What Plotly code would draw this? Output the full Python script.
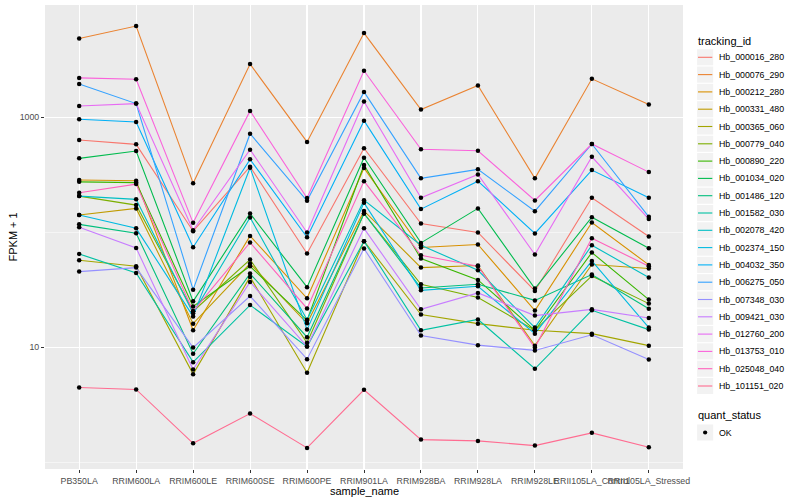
import plotly.graph_objects as go

samples = ["PB350LA", "RRIM600LA", "RRIM600LE", "RRIM600SE", "RRIM600PE", "RRIM901LA",
           "RRIM928BA", "RRIM928LA", "RRIM928LE", "RRII105LA_Control", "RRII105LA_Stressed"]

Hb_000016_280 = [634, 581, 102, 371, 65.2, 537, 119, 99.4, 30.8, 199, 91.7]
Hb_000076_290 = [4840, 6210, 267, 2900, 610, 5400, 1165, 1888, 294, 2158, 1288]
Hb_000212_280 = [284, 280, 14, 92.8, 26.6, 361, 73.5, 78.1, 20.8, 121.5, 51.9]
Hb_000331_480 = [141, 161, 16, 53.3, 16.1, 153, 49.2, 51.3, 10.3, 52.3, 48.3]
Hb_000365_060 = [57, 50.5, 5.82, 40.8, 5.98, 83.5, 19.2, 16, 14, 13.1, 10.3]
Hb_000779_040 = [206, 172, 20.5, 57.8, 10.9, 145.5, 35.2, 27, 14, 41.6, 23.9]
Hb_000890_220 = [274, 270, 22.6, 50.5, 17.1, 384, 59, 38.4, 14, 66.5, 25.9]
Hb_001034_020 = [439, 508, 25, 145.5, 33.2, 444, 80.7, 161, 32.3, 135, 72.5]
Hb_001486_120 = [117, 98, 8.76, 43.6, 12.2, 145.5, 32.7, 35.2, 25.5, 42.8, 21.6]
Hb_001582_030 = [64.7, 44.2, 7.4, 23.2, 10.1, 83.5, 14, 17.4, 6.48, 20.9, 14.2]
Hb_002078_420 = [206, 193, 19.7, 134, 17.3, 190, 77, 46.6, 14.8, 77, 40.3]
Hb_002374_150 = [141, 108, 18.5, 364, 14.2, 180, 31.2, 33.8, 13.1, 56.2, 14.8]
Hb_004032_350 = [960, 910, 74, 430, 90.4, 934, 158.7, 278, 97.4, 347, 199]
Hb_006275_050 = [1950, 1314, 31.6, 719, 187.5, 1662, 294, 352, 152.4, 585, 136]
Hb_007348_030 = [45.4, 49.2, 9.9, 27.8, 7.86, 72.1, 12.6, 10.4, 9.36, 12.8, 7.81]
Hb_009421_030 = [110.5, 73, 6.39, 36.9, 10.1, 108, 21.3, 29.6, 18.8, 21.3, 17.9]
Hb_012760_200 = [1254, 1314, 104, 522, 99.4, 1368, 199, 318, 64, 453, 130]
Hb_013753_010 = [2200, 2143, 120.5, 1135, 198, 2535, 526, 511, 189, 585, 333]
Hb_025048_040 = [220, 262, 20.5, 81.3, 21.7, 278, 63, 50.5, 9.9, 88.7, 50.5]
Hb_101151_020 = [4.45, 4.28, 1.456, 2.64, 1.327, 4.25, 1.568, 1.528, 1.39, 1.794, 1.343]

series = [
    ("Hb_000016_280", Hb_000016_280, "#F8766D"),
    ("Hb_000076_290", Hb_000076_290, "#EA8331"),
    ("Hb_000212_280", Hb_000212_280, "#D89000"),
    ("Hb_000331_480", Hb_000331_480, "#C09B00"),
    ("Hb_000365_060", Hb_000365_060, "#A3A500"),
    ("Hb_000779_040", Hb_000779_040, "#7CAE00"),
    ("Hb_000890_220", Hb_000890_220, "#39B600"),
    ("Hb_001034_020", Hb_001034_020, "#00BB4E"),
    ("Hb_001486_120", Hb_001486_120, "#00BF7D"),
    ("Hb_001582_030", Hb_001582_030, "#00C1A3"),
    ("Hb_002078_420", Hb_002078_420, "#00BFC4"),
    ("Hb_002374_150", Hb_002374_150, "#00BAE0"),
    ("Hb_004032_350", Hb_004032_350, "#00B0F6"),
    ("Hb_006275_050", Hb_006275_050, "#35A2FF"),
    ("Hb_007348_030", Hb_007348_030, "#9590FF"),
    ("Hb_009421_030", Hb_009421_030, "#C77CFF"),
    ("Hb_012760_200", Hb_012760_200, "#E76BF3"),
    ("Hb_013753_010", Hb_013753_010, "#FA62DB"),
    ("Hb_025048_040", Hb_025048_040, "#FF62BC"),
    ("Hb_101151_020", Hb_101151_020, "#FF6C91"),
]

W, H = 800, 500
ML, MR, MT, MB = 45, 117, 5, 31
PW, PH = W - ML - MR, H - MT - MB


def px(xp):
    return (xp - ML) / PW


def py(yp):
    return (H - MB - yp) / PH


FONT = "Liberation Sans"

fig = go.Figure()
for name, vals, col in series:
    fig.add_trace(go.Scatter(x=samples, y=vals, mode="lines", name=name,
                             line=dict(color=col, width=1.1), showlegend=False))

all_x, all_y = [], []
for name, vals, col in series:
    all_x += samples
    all_y += vals
fig.add_trace(go.Scatter(x=all_x, y=all_y, mode="markers", name="OK",
                         marker=dict(color="black", size=4.5, symbol="circle"),
                         showlegend=False))

shapes = []
annotations = []

# legend: tracking_id
key_l, key_r = 696.5, 713.8
row0, rowh = 57.3, 17.3
annotations.append(dict(xref="paper", yref="paper", x=px(696), y=py(40.7), text="tracking_id",
                        showarrow=False, xanchor="left", yanchor="middle",
                        font=dict(family=FONT, size=11, color="black")))
for i, (name, vals, col) in enumerate(series):
    c = row0 + i * rowh
    shapes.append(dict(type="rect", xref="paper", yref="paper",
                       x0=px(key_l + 0.6), x1=px(key_r - 0.6), y0=py(c - rowh / 2 + 0.6), y1=py(c + rowh / 2 - 0.6),
                       fillcolor="#F2F2F2", line=dict(width=0), layer="above"))
    shapes.append(dict(type="line", xref="paper", yref="paper",
                       x0=px(key_l + 1.5), x1=px(key_r - 1.5), y0=py(c), y1=py(c),
                       line=dict(color=col, width=1.1), layer="above"))
    annotations.append(dict(xref="paper", yref="paper", x=px(717), y=py(c), text=name,
                            showarrow=False, xanchor="left", yanchor="middle",
                            font=dict(family=FONT, size=8.8, color="black")))

# legend: quant_status
q_title, q_row = 414.5, 432.5
annotations.append(dict(xref="paper", yref="paper", x=px(696), y=py(q_title), text="quant_status",
                        showarrow=False, xanchor="left", yanchor="middle",
                        font=dict(family=FONT, size=11, color="black")))
shapes.append(dict(type="rect", xref="paper", yref="paper",
                   x0=px(key_l + 0.6), x1=px(key_r - 0.6), y0=py(q_row - rowh / 2 + 0.6), y1=py(q_row + rowh / 2 - 0.6),
                   fillcolor="#F2F2F2", line=dict(width=0), layer="above"))
kc = (key_l + key_r) / 2
shapes.append(dict(type="circle", xref="paper", yref="paper",
                   x0=px(kc - 2.1), x1=px(kc + 2.1), y0=py(q_row - 2.1), y1=py(q_row + 2.1),
                   fillcolor="black", line=dict(width=0), layer="above"))
annotations.append(dict(xref="paper", yref="paper", x=px(717), y=py(q_row), text="OK",
                        showarrow=False, xanchor="left", yanchor="middle",
                        font=dict(family=FONT, size=8.8, color="black")))

# axis titles
annotations.append(dict(xref="paper", yref="paper", x=px(ML + PW / 2), y=py(491.5), text="sample_name",
                        showarrow=False, xanchor="center", yanchor="middle",
                        font=dict(family=FONT, size=11, color="black")))
annotations.append(dict(xref="paper", yref="paper", x=px(12.5), y=py(MT + PH / 2), text="FPKM + 1",
                        showarrow=False, xanchor="center", yanchor="middle", textangle=-90,
                        font=dict(family=FONT, size=11, color="black")))

fig.update_layout(
    width=W, height=H,
    margin=dict(l=ML, r=MR, t=MT, b=MB),
    plot_bgcolor="#EBEBEB", paper_bgcolor="white",
    font=dict(family=FONT, size=9, color="black"),
    showlegend=False, hovermode=False,
    shapes=shapes, annotations=annotations,
)
fig.update_xaxes(type="category", range=[-0.6, 10.6], showgrid=True, gridcolor="white",
                 gridwidth=1.1, zeroline=False, showline=False, ticks="outside", ticklen=3,
                 tickcolor="#333333", tickangle=0, automargin=False,
                 tickfont=dict(family=FONT, size=8.8, color="#4D4D4D"))
fig.update_yaxes(type="log", range=[-0.0605, 3.9765], tickvals=[10, 1000], ticktext=["10", "1000"],
                 showgrid=True, gridcolor="white", gridwidth=1.1, zeroline=False, showline=False,
                 ticks="outside", ticklen=3, tickcolor="#333333", automargin=False,
                 tickfont=dict(family=FONT, size=8.8, color="#4D4D4D"),
                 minor=dict(tickvals=[1, 100], showgrid=True, gridcolor="white", gridwidth=0.5, ticks=""))

fig.write_html("out.html", config={"displayModeBar": False, "staticPlot": True},
               post_script="document.body.style.margin='0px';document.body.style.padding='0px';")
